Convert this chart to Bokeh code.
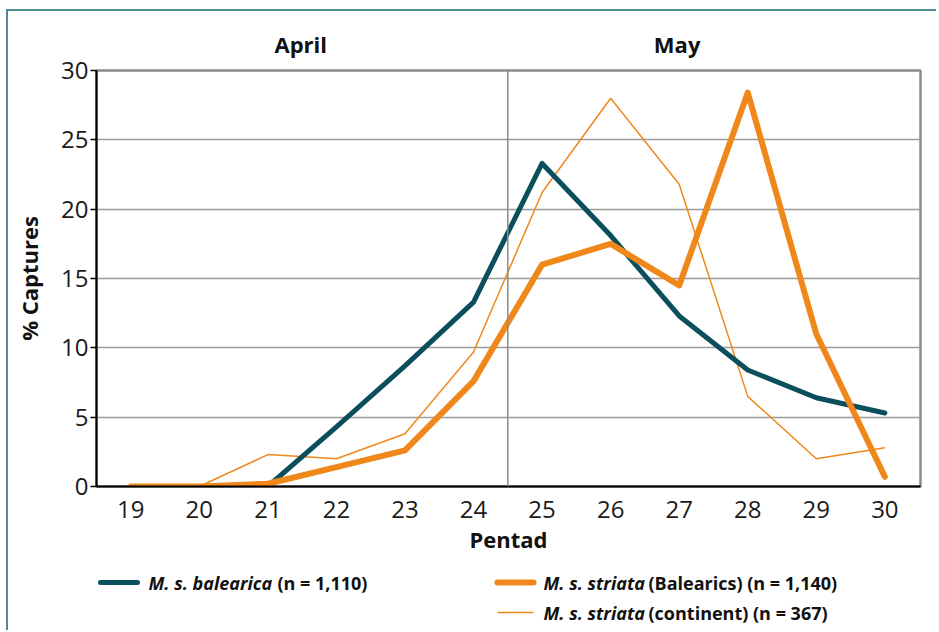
from bokeh.plotting import figure
from bokeh.models import Range1d, Span, FixedTicker, LinearAxis
from bokeh.layouts import column
from bokeh.core.properties import value
from bokeh.embed import file_html
from bokeh.resources import INLINE

# ---- data ----
pentads = [19, 20, 21, 22, 23, 24, 25, 26, 27, 28, 29, 30]
balearica = [0, 0, 0, 4.3, 8.7, 13.3, 23.3, 18.1, 12.3, 8.4, 6.4, 5.3]
striata_baleares = [0, 0, 0.2, 1.4, 2.6, 7.6, 16.0, 17.5, 14.5, 28.4, 11.0, 0.7]
striata_continent = [0, 0, 2.3, 2.0, 3.8, 9.7, 21.2, 28.0, 21.8, 6.5, 2.0, 2.8]
y_ticks = [0, 5, 10, 15, 20, 25, 30]
month_labels = ["April", "May"]
month_centres = [21.48, 26.97]
month_boundary = 24.5
legend_names = ["M. s. balearica", "M. s. striata", "M. s. striata"]
legend_suffix = ["(n = 1,110)", "(Balearics) (n = 1,140)", "(continent) (n = 367)"]

TEAL = "#0b4f5c"
ORANGE = "#f0871a"
FRAME = "#4e8b93"
FONT = "Open Sans"
W = 936

# ---------------- main chart ----------------
p = figure(width=W, height=560, output_backend="svg", toolbar_location=None,
           x_range=Range1d(18.5, 30.52), y_range=Range1d(0, 30),
           min_border_left=96, min_border_right=W - 920, min_border_top=70,
           min_border_bottom=74)
p.border_fill_color = None
p.background_fill_color = "white"
p.styles = {"background":
            f"linear-gradient({FRAME},{FRAME}) 7px 9px / 100% 2px no-repeat, "
            f"linear-gradient({FRAME},{FRAME}) 6px 9px / 2px 100% no-repeat, white"}

p.outline_line_color = "#8a8a8a"
p.outline_line_width = 2.5
p.xgrid.visible = False
p.ygrid.grid_line_color = "#9a9a9a"
p.ygrid.grid_line_width = 1.5
p.ygrid.ticker = FixedTicker(ticks=y_ticks)

p.yaxis.ticker = FixedTicker(ticks=y_ticks)
p.xaxis.ticker = FixedTicker(ticks=pentads)
for ax in (p.xaxis, p.yaxis):
    ax.axis_line_color = "black"
    ax.axis_line_width = 2
    ax.major_label_text_font = FONT
    ax.major_label_text_font_size = "24px"
    ax.major_label_text_color = "#1a1a1a"
    ax.axis_label_text_font = FONT
    ax.axis_label_text_font_size = "22px"
    ax.axis_label_text_font_style = "bold"
    ax.axis_label_text_color = "#111111"
    ax.minor_tick_line_color = None
p.xaxis.major_tick_line_color = None
p.xaxis.major_label_standoff = 8
p.xaxis.axis_label = "Pentad"
p.xaxis.axis_label_standoff = 3
p.yaxis.major_tick_in = 0
p.yaxis.major_tick_out = 6
p.yaxis.major_tick_line_color = "black"
p.yaxis.major_tick_line_width = 1.5
p.yaxis.major_label_standoff = 2
p.yaxis.axis_label = "% Captures"
p.yaxis.axis_label_standoff = 14

# month headers as a label-only axis above the frame
month_axis = LinearAxis(ticker=FixedTicker(ticks=month_centres),
                        major_label_overrides=dict(zip(month_centres, month_labels)),
                        axis_line_color=None, major_tick_line_color=None,
                        minor_tick_line_color=None, major_label_standoff=6,
                        major_label_text_font=FONT, major_label_text_font_size="22px",
                        major_label_text_font_style="bold", major_label_text_color="#111111")
p.add_layout(month_axis, "above")

# April / May separator
p.add_layout(Span(location=month_boundary, dimension="height", line_color="#8a8a8a",
                  line_width=1.5))

# series
r_cont = p.line(pentads, striata_continent, line_color=ORANGE, line_width=1.5)
r_bal = p.line(pentads, balearica, line_color=TEAL, line_width=5, line_join="round",
               line_cap="round")
r_str = p.line(pentads, striata_baleares, line_color=ORANGE, line_width=6, line_join="round",
               line_cap="round")

# ---------------- legend strip (frame aligned with main frame: 96..920 px) ----------------
lg = figure(width=W, height=70, output_backend="svg", toolbar_location=None,
            x_range=Range1d(96, 920), y_range=Range1d(70, 0),
            x_axis_type=None, y_axis_type=None,
            min_border_left=0, min_border_right=0, min_border_top=0, min_border_bottom=0)
lg.outline_line_color = None
lg.xgrid.visible = False
lg.ygrid.visible = False
lg.border_fill_color = None
lg.background_fill_color = None
lg.styles = {"background":
             f"linear-gradient({FRAME},{FRAME}) 6px 0 / 2px 100% no-repeat, white"}

leg_rows = [22, 22, 52]
leg_x0 = [100, 497, 497]
leg_x1 = [137, 533, 533]
leg_name_x = [148, 543, 543]
leg_suffix_x = [277, 648, 648]
leg_colors = [TEAL, ORANGE, ORANGE]
leg_widths = [5, 6, 1.5]
leg_caps = ["round", "round", "butt"]
for i in range(3):
    lg.segment(x0=[leg_x0[i]], y0=[leg_rows[i]], x1=[leg_x1[i]], y1=[leg_rows[i]],
               line_color=leg_colors[i], line_width=leg_widths[i], line_cap=leg_caps[i])
lg.text(x=leg_name_x, y=leg_rows, text=legend_names, text_font=value(FONT),
        text_font_size="18px", text_font_style="bold italic", text_baseline="middle",
        text_align="left", text_color="#111111")
lg.text(x=leg_suffix_x, y=leg_rows, text=legend_suffix, text_font=value(FONT),
        text_font_size="18px", text_font_style="bold", text_baseline="middle",
        text_align="left", text_color="#111111")

page = column(p, lg, spacing=0)
open("out.html", "w").write(file_html(page, INLINE))
